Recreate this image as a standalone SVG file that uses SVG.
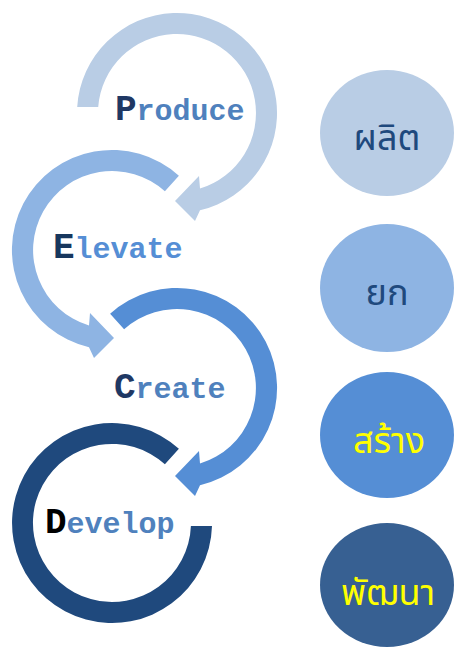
<svg xmlns="http://www.w3.org/2000/svg" width="454" height="648" viewBox="0 0 454 648">
<style>
.lbl{font-family:"Courier New","Nimbus Mono PS","FreeMono","Liberation Mono",monospace;font-weight:bold}
.big{font-size:36px}
.small{font-size:30px}
.thai{font-family:"Noto Sans Thai","Tahoma","Noto Sans",sans-serif;font-size:36px;text-anchor:middle}
</style>
<rect width="454" height="648" fill="#FFFFFF"/>
<g id="connectors">
<path id="ring-produce" fill="#B9CDE5" d="M77.2,107 A100,100 0 1 1 200,210.3 L195,221 L175,201 L199,176 L200,188.6 A79,79 0 1 0 98.2,107 Z"/>
<path id="ring-elevate" fill="#8EB4E3" d="M178.9,175.7 A100,100 0 1 0 89,347.3 L94,358 L114,338 L90,313 L89,325.6 A79,79 0 1 1 164.9,191.3 Z"/>
<path id="ring-create" fill="#558ED5" d="M110.1,313.7 A100,100 0 1 1 200,485.3 L195,496 L175,476 L199,451 L200,463.6 A79,79 0 1 0 124.1,329.3 Z"/>
<path id="ring-develop" fill="#1F497D" d="M178.9,448.7 A100,100 0 1 0 212,526 L190.9,526 A79,79 0 1 1 164.9,464.3 Z"/>
</g>
<g id="produce">
<text class="lbl" x="115" y="120"><tspan class="big" fill="#1F3864">P</tspan><tspan class="small" fill="#4F81BD">roduce</tspan></text>
</g>
<g id="elevate">
<text class="lbl" x="53" y="258"><tspan class="big" fill="#17375E">E</tspan><tspan class="small" fill="#558ED5">levate</tspan></text>
</g>
<g id="create">
<text class="lbl" x="114" y="398"><tspan class="big" fill="#1F3864">C</tspan><tspan class="small" fill="#4F81BD">reate</tspan></text>
</g>
<g id="develop">
<text class="lbl" x="45" y="533"><tspan class="big" fill="#000000">D</tspan><tspan class="small" fill="#4F81BD">evelop</tspan></text>
</g>
<g id="th-produce">
<ellipse cx="387" cy="133" rx="67" ry="63" fill="#B9CDE5"/>
<text class="thai" x="387" y="150" fill="#1F497D">ผลิต</text>
</g>
<g id="th-elevate">
<ellipse cx="387" cy="288" rx="67" ry="64" fill="#8EB4E3"/>
<text class="thai" x="387" y="305" fill="#1F497D">ยก</text>
</g>
<g id="th-create">
<ellipse cx="387" cy="435" rx="67" ry="63" fill="#558ED5"/>
<text class="thai" x="389" y="453" fill="#FFFF00">สร้าง</text>
</g>
<g id="th-develop">
<ellipse cx="387" cy="585" rx="67" ry="62" fill="#376092"/>
<text class="thai" x="388" y="605" fill="#FFFF00">พัฒนา</text>
</g>
</svg>
